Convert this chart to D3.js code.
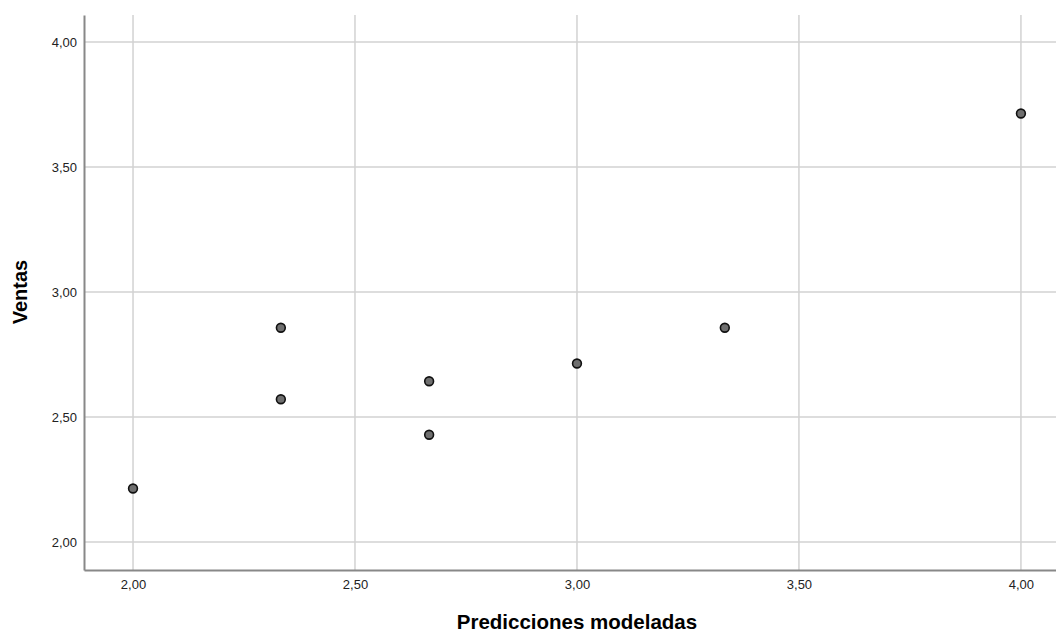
<!DOCTYPE html>
<html>
<head>
<meta charset="utf-8">
<script src="https://cdn.jsdelivr.net/npm/d3@7"></script>
<style>
  body { margin: 0; background: #fff; }
  svg { display: block; font-family: "Liberation Sans", Arial, sans-serif; }
</style>
</head>
<body>
<svg id="chart" width="1056" height="632"></svg>
<script>
// values
const predicciones = [2.00, 2.333, 2.333, 2.667, 2.667, 3.00, 3.333, 4.00];
const ventas = [2.214, 2.857, 2.571, 2.643, 2.429, 2.714, 2.857, 3.714];
const xTicks = [2.0, 2.5, 3.0, 3.5, 4.0];
const yTicks = [2.0, 2.5, 3.0, 3.5, 4.0];

const svg = d3.select("#chart");
const margin = { top: 15, right: 0, bottom: 62, left: 84 };
const width = 1056 - margin.left - margin.right;
const height = 632 - margin.top - margin.bottom;

const x = d3.scaleLinear().domain([1.8896, 4.079]).range([0, width]);
const y = d3.scaleLinear().domain([1.888, 4.108]).range([height, 0]);

const fmt = d => d3.format(".2f")(d).replace(".", ",");

const g = svg.append("g")
    .attr("transform", `translate(${margin.left},${margin.top})`);

//gridlines
g.selectAll(".vgrid")
    .data(xTicks)
    .enter()
    .append("line")
    .attr("x1", d => x(d)).attr("x2", d => x(d))
    .attr("y1", 0).attr("y2", height)
    .style("stroke", "#d2d2d2")
    .style("stroke-width", 1.5);

g.selectAll(".hgrid")
    .data(yTicks)
    .enter()
    .append("line")
    .attr("x1", 0).attr("x2", width)
    .attr("y1", d => y(d)).attr("y2", d => y(d))
    .style("stroke", "#d2d2d2")
    .style("stroke-width", 1.5);

//axes
const xAxis = d3.axisBottom(x).tickValues(xTicks).tickFormat(fmt).tickSize(0).tickPadding(10);
const yAxis = d3.axisLeft(y).tickValues(yTicks).tickFormat(fmt).tickSize(0).tickPadding(7);

const gx = g.append("g").attr("transform", `translate(0,${height})`).call(xAxis);
const gy = g.append("g").call(yAxis);

[gx, gy].forEach(a => {
    a.select(".domain").style("stroke", "#888").style("stroke-width", 2);
    a.selectAll("text").style("font-size", "13px").style("fill", "#222");
});

//points
g.selectAll(".dot")
    .data(predicciones)
    .enter()
    .append("circle")
    .attr("cx", d => x(d))
    .attr("cy", (d, i) => y(ventas[i]))
    .attr("r", 4.4)
    .style("fill", "#6f6f6f")
    .style("stroke", "#111")
    .style("stroke-width", 1.6);

//axis titles
svg.append("text")
    .attr("x", margin.left + x(3.0))
    .attr("y", 629)
    .attr("text-anchor", "middle")
    .style("font-size", "20.5px")
    .style("font-weight", "bold")
    .style("fill", "#000")
    .text("Predicciones modeladas");

svg.append("text")
    .attr("transform", `translate(27,${margin.top + y(3.0)}) rotate(-90)`)
    .attr("text-anchor", "middle")
    .style("font-size", "20px")
    .style("font-weight", "bold")
    .style("fill", "#000")
    .text("Ventas");
</script>
</body>
</html>
